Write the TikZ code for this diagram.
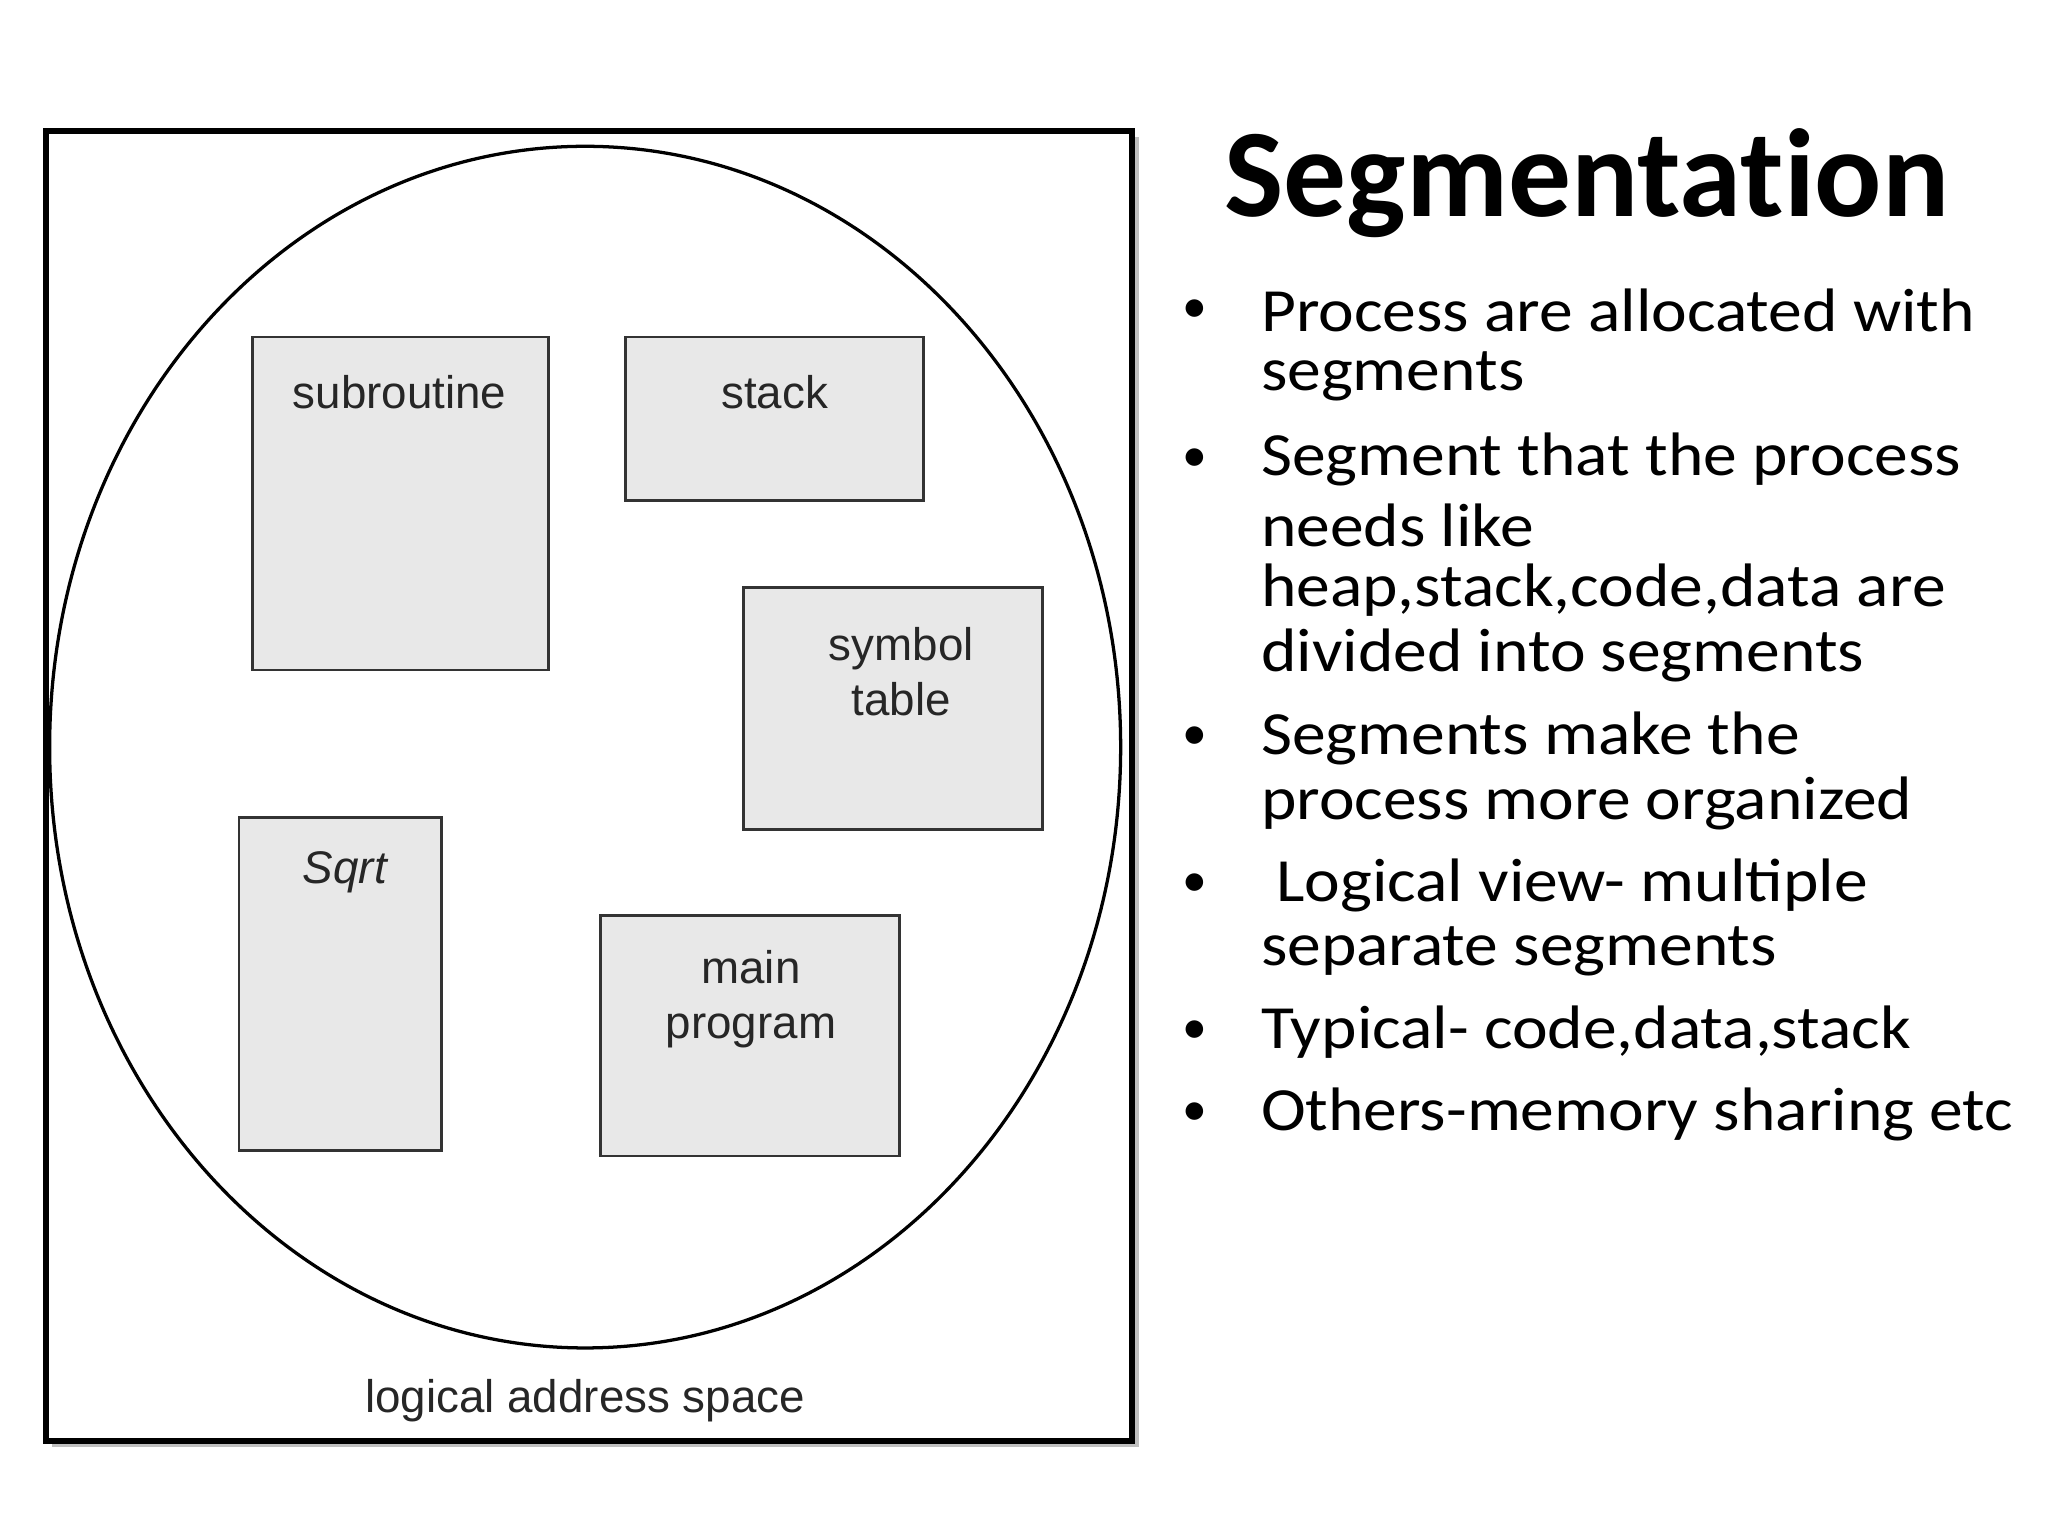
\documentclass[tikz,border=0pt]{standalone}
\usepackage{fontspec}
\setmainfont{Carlito}
\newfontfamily\diag{Liberation Sans}
\newfontfamily\wide[FakeStretch=1.1]{Carlito}
\begin{document}
\begin{tikzpicture}[x=1pt,y=-1pt,
  seg/.style={draw=black!80,line width=2.2pt,fill=black!9},
  lab/.style={font=\diag\fontsize{35}{42}\selectfont,text=black!85,align=center},
  bl/.style={font=\wide\fontsize{47}{50}\selectfont,anchor=west},
  dot/.style={font=\fontsize{38}{50}\selectfont}]
\useasboundingbox (0,0) rectangle (1568,1176);
\fill[black!25] (40,105) rectangle (872,1108);
\draw[line width=4.5pt,fill=white] (35,100) rectangle (867,1103);
\draw[line width=2.5pt] (448,572) ellipse [x radius=410, y radius=460];
\draw[seg] (193,258) rectangle (420,513);
\draw[seg] (479,258) rectangle (707,383);
\draw[seg] (569,450) rectangle (798,635);
\draw[seg] (183,626) rectangle (338,881);
\draw[seg] (460,701) rectangle (689,885);
\node[lab] (sub) at (306,300) {subroutine};
\node[lab] (stk) at (593,300) {stack};
\node[lab] (sym) at (690,514) {symbol\\table};
\node[lab] (sq) at (264,668) {\itshape Sqrt};
\node[lab] (mp) at (575,765) {main\\program};
\node[lab] (las) at (448,1072) {logical address space};
\node[font=\bfseries\fontsize{96}{100}\selectfont] (title) at (1215,140) {Segmentat\kern0pt ion};
\foreach \y in {238,352,565,678,790,853} \node[dot] at (915,\y) {•};
\node[bl] (l1) at (962,238) {Process are allocated with};
\node[bl] (l2) at (962,288) {segments};
\node[bl] (l3) at (962,352) {Segment that the process};
\node[bl] (l4) at (962,402) {needs like};
\node[bl] (l5) at (962,452) {heap,stack,code,data are};
\node[bl] (l6) at (962,502) {divided into segments};
\node[bl] (l7) at (962,565) {Segments make the};
\node[bl] (l8) at (962,615) {process more organized};
\node[bl] (l9) at (962,678) {\ Logical view- multiple};
\node[bl] (l10) at (962,728) {separate segments};
\node[bl] (l11) at (962,790) {Typical- code,data,stack};
\node[bl] (l12) at (962,853) {Others-memory sharing etc};
\end{tikzpicture}
\end{document}
